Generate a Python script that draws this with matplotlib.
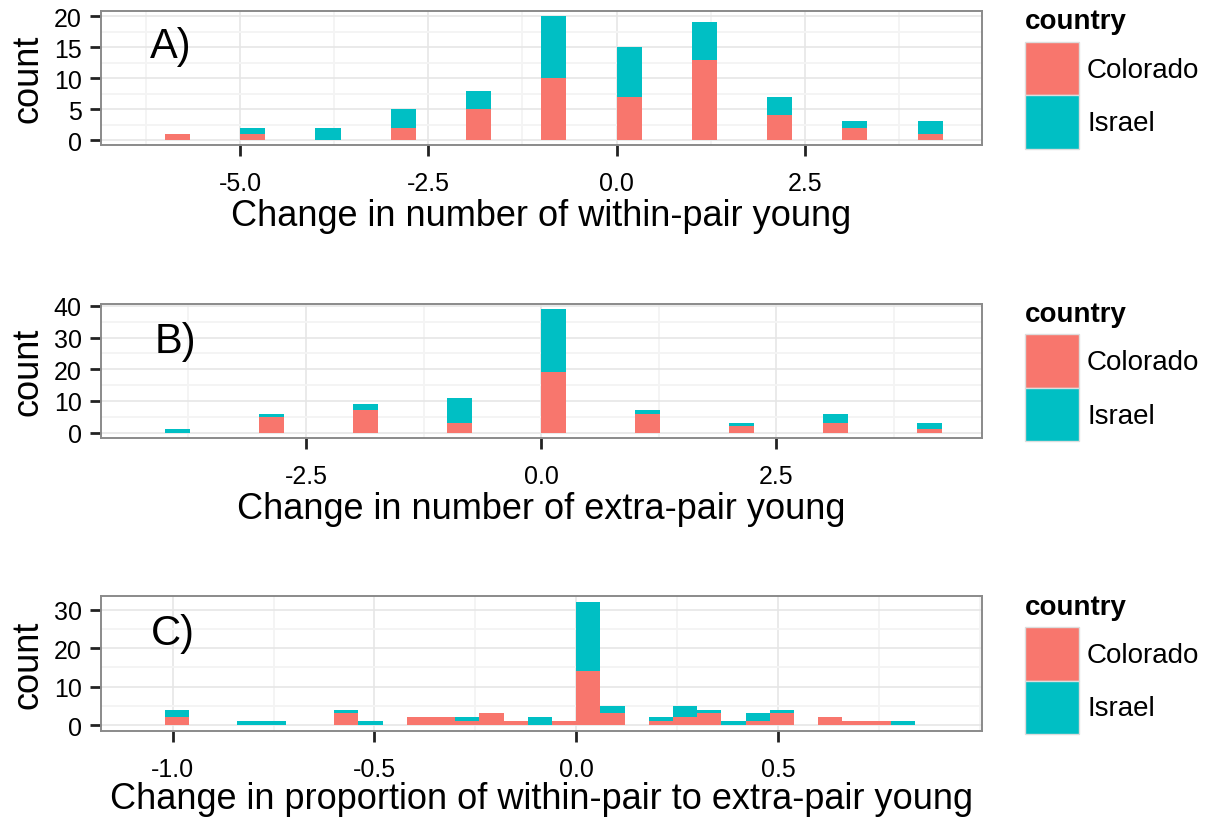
import matplotlib
matplotlib.use("Agg")
import matplotlib.pyplot as plt
from matplotlib.ticker import MultipleLocator, FormatStrFormatter
from matplotlib.patches import Rectangle

plt.rcParams['font.family'] = ['Liberation Sans', 'DejaVu Sans']
plt.rcParams['axes.unicode_minus'] = False

# ---- data (counts per bin, stacked: Colorado at bottom, Israel on top) ----
# A) change in number of within-pair young (bin starts at integer values)
wp_change = [-6, -5, -4, -3, -2, -1, 0, 1, 2, 3, 4]
wp_colorado = [1, 1, 0, 2, 5, 10, 7, 13, 4, 2, 1]
wp_israel = [0, 1, 2, 3, 3, 10, 8, 6, 3, 1, 2]

# B) change in number of extra-pair young
ep_change = [-4, -3, -2, -1, 0, 1, 2, 3, 4]
ep_colorado = [0, 5, 7, 3, 19, 6, 2, 3, 1]
ep_israel = [1, 1, 2, 8, 20, 1, 1, 3, 2]

# C) change in proportion of within-pair to extra-pair young (bin starts)
prop_bin = [-1.02, -0.84, -0.78, -0.60, -0.54, -0.42, -0.36, -0.30, -0.24,
            -0.18, -0.12, -0.06, 0.00, 0.06, 0.18, 0.24, 0.30, 0.36, 0.42,
            0.48, 0.60, 0.66, 0.72, 0.78]
prop_colorado = [2, 0, 0, 3, 0, 2, 2, 1, 3, 1, 0, 1, 14, 3, 1, 2, 3, 0, 1,
                 3, 2, 1, 1, 0]
prop_israel = [2, 1, 1, 1, 1, 0, 0, 1, 0, 0, 2, 0, 18, 2, 1, 3, 1, 1, 2,
               1, 0, 0, 0, 1]
prop_ticks = [-1.0, -0.5, 0.0, 0.5]

countries = ['Colorado', 'Israel']
colors = ['#F8766D', '#00BFC4']

W, H = 1211, 820
fig = plt.figure(figsize=(W / 100, H / 100), dpi=100)


def px_axes(top, bottom, left=101, right=982):
    return fig.add_axes([left / W, 1 - bottom / H, (right - left) / W, (bottom - top) / H])


def draw_panel(ax, x, c1, c2, width, xlim, ylim, xmaj, ymaj, xlabel, tag, tagpos,
               xticks=None, labelpad=2):
    ax.bar(x, c1, width=width, align='edge', color=colors[0], linewidth=0, zorder=3)
    ax.bar(x, c2, width=width, bottom=c1, align='edge', color=colors[1], linewidth=0, zorder=3)
    ax.set_xlim(*xlim)
    ax.set_ylim(*ylim)
    if xticks is None:
        ax.xaxis.set_major_locator(MultipleLocator(xmaj))
    else:
        ax.set_xticks(xticks)
    ax.xaxis.set_minor_locator(MultipleLocator(xmaj / 2))
    ax.yaxis.set_major_locator(MultipleLocator(ymaj))
    ax.yaxis.set_minor_locator(MultipleLocator(ymaj / 2))
    ax.xaxis.set_major_formatter(FormatStrFormatter('%.1f'))
    ax.grid(True, which='major', color='#E6E6E6', lw=1.2, zorder=0)
    ax.grid(True, which='minor', color='#F4F4F4', lw=1.4, zorder=0)
    ax.set_axisbelow(True)
    for s in ax.spines.values():
        s.set_color('#8a8a8a')
        s.set_linewidth(1.4)
    ax.tick_params(which='major', length=8, width=2, color='#222222',
                   labelsize=18, pad=6)
    ax.tick_params(axis='x', which='major', pad=11)
    ax.tick_params(which='minor', length=0)
    ax.set_xlabel(xlabel, fontsize=26, labelpad=labelpad)
    ax.set_ylabel('count', fontsize=26, labelpad=6)
    ax.text(tagpos[0], tagpos[1], tag, fontsize=30, ha='left', va='baseline', zorder=5)


def draw_legend(top):
    fig.text(1025 / W, 1 - (top + 17.3) / H, 'country', fontsize=20,
             fontweight='bold', ha='left', va='baseline')
    for i, (name, col) in enumerate(zip(countries, colors)):
        ktop = top + 30.7 + 53.5 * i
        fig.patches.append(Rectangle((1025 / W, 1 - (ktop + 53.5) / H), 54 / W, 53.5 / H,
                                     transform=fig.transFigure, facecolor=col,
                                     edgecolor='#dddddd', lw=1))
        fig.text(1087 / W, 1 - (ktop + 28) / H, name, fontsize=20, ha='left', va='center')


axA = px_axes(12, 146)
draw_panel(axA, wp_change, wp_colorado, wp_israel, 1 / 3, (-6.85, 4.856), (-0.8, 20.85),
           2.5, 5, 'Change in number of within-pair young', 'A)', (-6.195, 13.4))
draw_legend(12)

axB = px_axes(304.7, 438.7)
draw_panel(axB, ep_change, ep_colorado, ep_israel, 8 / 30, (-4.68, 4.69), (-1.6, 40.7),
           2.5, 10, 'Change in number of extra-pair young', 'B)', (-4.106, 25.4))
draw_legend(304.7)

axC = px_axes(597.3, 732)
draw_panel(axC, prop_bin, prop_colorado, prop_israel, 0.06, (-1.178, 1.006), (-1.56, 33.5),
           0.5, 10, 'Change in proportion of within-pair to extra-pair young', 'C)',
           (-1.054, 21.1), xticks=prop_ticks, labelpad=0)
draw_legend(597.3)

fig.savefig('out.png', dpi=100)
